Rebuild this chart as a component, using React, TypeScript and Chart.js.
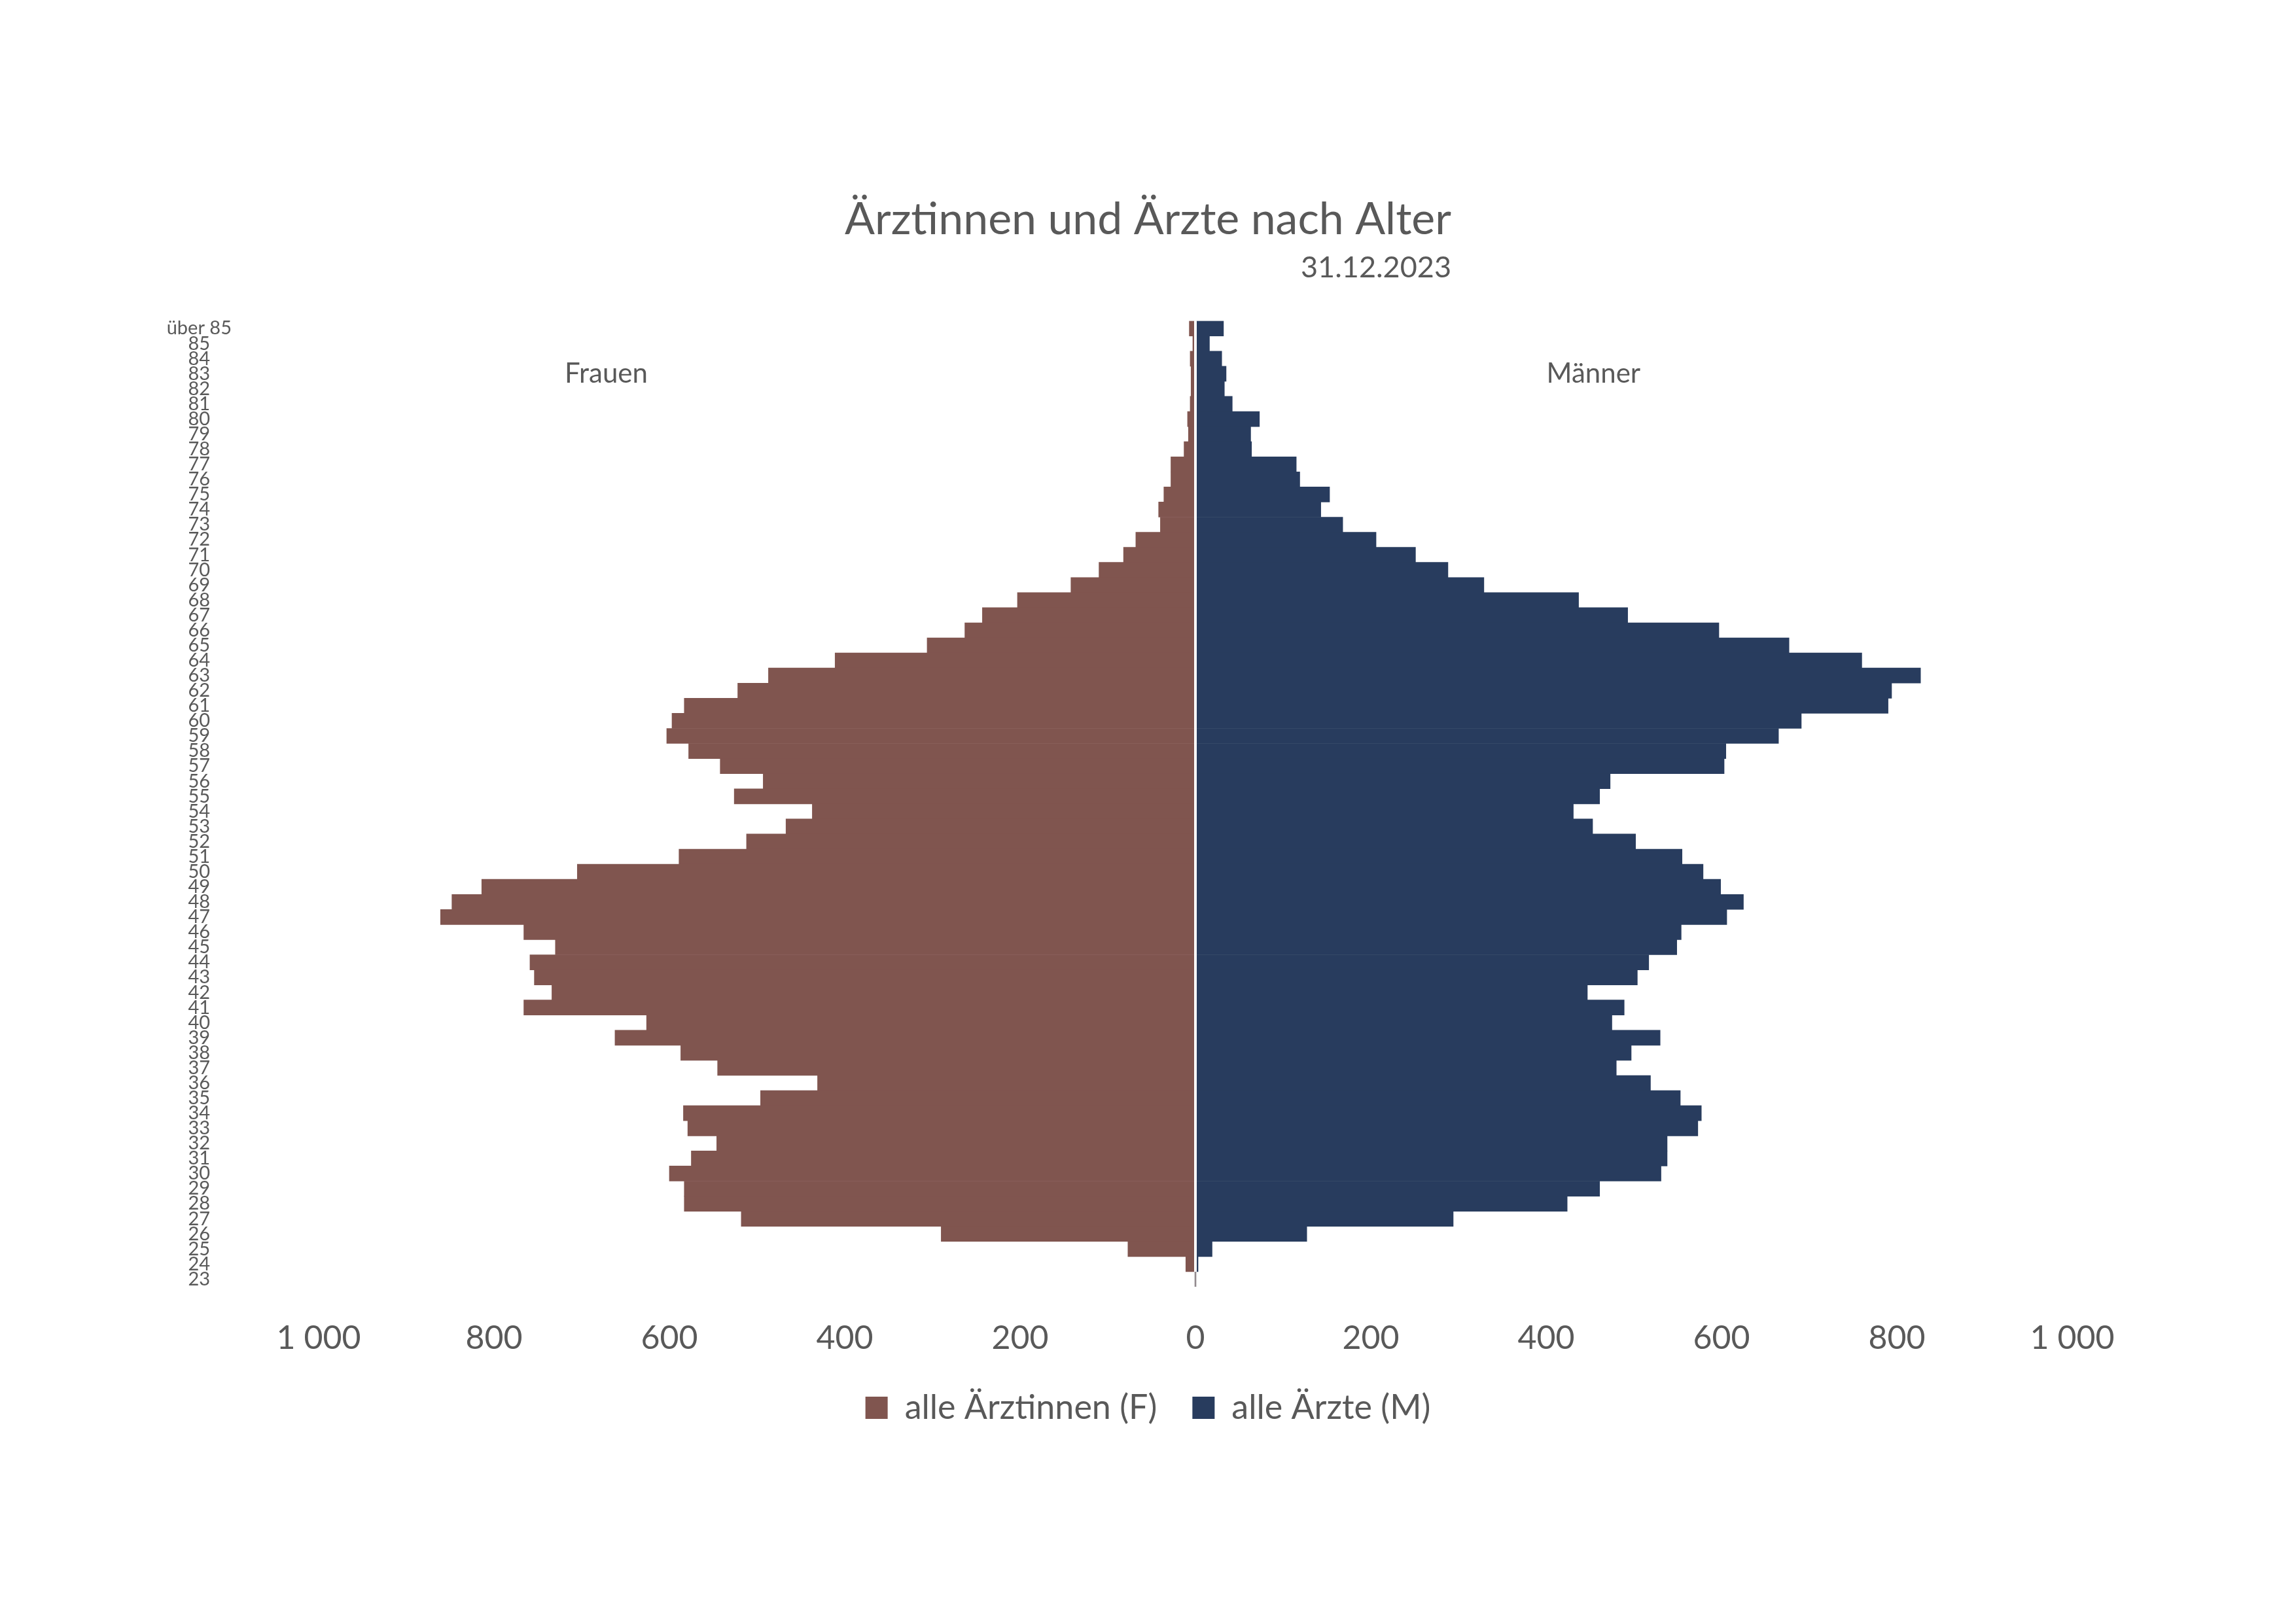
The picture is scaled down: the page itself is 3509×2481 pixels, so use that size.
import React, { useEffect, useRef } from "react";
import Chart from "chart.js/auto";

const FONT = "Lato";
const GREY = "#595959";
const WOMEN_COLOR = "#80554F";
const MEN_COLOR = "#283C5E";

const title = "Ärztinnen und Ärzte nach Alter";
const subtitle = "31.12.2023";
const sideLabels = ["Frauen", "Männer"];
const seriesNames = ["alle Ärztinnen (F)", "alle Ärzte (M)"];

// top row first, as in the picture
const ageLabels = [
    "über 85", "85", "84", "83", "82", "81", "80", "79", "78", "77", "76",
    "75", "74", "73", "72", "71", "70", "69", "68", "67", "66", "65", "64",
    "63", "62", "61", "60", "59", "58", "57", "56", "55", "54", "53", "52",
    "51", "50", "49", "48", "47", "46", "45", "44", "43", "42", "41", "40",
    "39", "38", "37", "36", "35", "34", "33", "32", "31", "30", "29", "28",
    "27", "26", "25", "24", "23",
];

const women = [
    7, 3, 6, 5, 5, 6, 9, 8, 13, 28, 28,
    36, 42, 40, 68, 82, 110, 142, 203, 243, 263, 306, 411,
    487, 522, 583, 597, 603, 578, 542, 493, 526, 437, 467, 512,
    589, 705, 814, 848, 861, 766, 730, 759, 754, 734, 766, 626,
    662, 587, 545, 431, 496, 584, 579, 546, 575, 600, 583, 583,
    518, 290, 77, 11, 0,
];

const men = [
    32, 16, 30, 35, 33, 42, 73, 63, 64, 115, 119,
    153, 143, 168, 206, 251, 288, 329, 437, 493, 597, 677, 760,
    827, 794, 790, 691, 665, 605, 603, 473, 461, 431, 453, 502,
    555, 579, 599, 625, 606, 554, 549, 517, 504, 447, 489, 475,
    530, 497, 480, 519, 553, 577, 573, 538, 538, 531, 461, 424,
    294, 127, 19, 3, 0,
];

const formatTick = (v: number) =>
    String(Math.abs(v)).replace(/\B(?=(\d{3})+(?!\d))/g, " ");

// white gap between the two halves, only where there are bars
const centerGap = {
    id: "centerGap",
    afterDatasetsDraw(chart: any) {
        const { ctx, chartArea, scales } = chart;
        const x = scales.x.getPixelForValue(0);
        const row = (chartArea.bottom - chartArea.top) / ageLabels.length;
        const bottom = scales.y.getPixelForValue(ageLabels.length - 2) + row / 2;
        ctx.save();
        ctx.strokeStyle = "#FFFFFF";
        ctx.lineWidth = 4;
        ctx.beginPath();
        ctx.moveTo(x, chartArea.top);
        ctx.lineTo(x, bottom);
        ctx.stroke();
        ctx.restore();
    },
};

// subtitle under the right end of the title, and the two side captions
const extraText = {
    id: "extraText",
    afterDraw(chart: any) {
        const { ctx, chartArea } = chart;
        ctx.save();
        ctx.fillStyle = GREY;
        ctx.font = `68px ${FONT}`;
        const titleRight = chart.width / 2 + ctx.measureText(title).width / 2;
        ctx.font = `45px ${FONT}`;
        ctx.textAlign = "right";
        ctx.textBaseline = "alphabetic";
        ctx.fillText(subtitle, titleRight, 424);

        const w = chartArea.right - chartArea.left;
        const y = chartArea.top + 94;
        ctx.font = `42px ${FONT}`;
        ctx.textAlign = "center";
        ctx.fillText(sideLabels[0], chartArea.left + w * 0.164, y);
        ctx.fillText(sideLabels[1], chartArea.left + w * 0.727, y);
        ctx.restore();
    },
};

const App = () => {
    const canvasRef = useRef(null);

    useEffect(() => {
        const chart = new Chart(canvasRef.current, {
            type: "bar",
            data: {
                labels: ageLabels,
                datasets: [
                    {
                        label: seriesNames[0],
                        data: women.map((v) => -v),
                        backgroundColor: WOMEN_COLOR,
                        barPercentage: 1,
                        categoryPercentage: 1,
                    },
                    {
                        label: seriesNames[1],
                        data: men,
                        backgroundColor: MEN_COLOR,
                        barPercentage: 1,
                        categoryPercentage: 1,
                    },
                ],
            },
            options: {
                indexAxis: "y",
                responsive: true,
                maintainAspectRatio: false,
                animation: false,
                layout: {
                    padding: { left: 123, right: 123, top: 295, bottom: 293 },
                },
                scales: {
                    x: {
                        stacked: true,
                        min: -1000,
                        max: 1000,
                        border: { display: false },
                        grid: {
                            drawTicks: false,
                            lineWidth: 4,
                            color: (ctx: any) =>
                                ctx.tick && ctx.tick.value === 0
                                    ? "#D9D9D9"
                                    : "rgba(0,0,0,0)",
                        },
                        ticks: {
                            stepSize: 200,
                            padding: 49,
                            maxRotation: 0,
                            color: GREY,
                            font: { family: FONT, size: 50 },
                            callback: (v: any) => formatTick(Number(v)),
                        },
                        afterFit: (scale: any) => {
                            scale.height = 105;
                        },
                    },
                    y: {
                        stacked: true,
                        border: { display: false },
                        grid: { display: false, drawTicks: false },
                        ticks: {
                            autoSkip: false,
                            crossAlign: "center",
                            padding: 133,
                            color: GREY,
                            font: { family: FONT, size: 29 },
                        },
                        afterFit: (scale: any) => {
                            scale.width = 364;
                        },
                    },
                    // empty spacer on the right so title and legend stay centred on the page
                    spacer: {
                        type: "linear",
                        position: "right",
                        border: { display: false },
                        grid: { display: false, drawTicks: false },
                        ticks: { display: false },
                        afterFit: (scale: any) => {
                            scale.width = 219;
                        },
                    },
                },
                plugins: {
                    title: {
                        display: true,
                        text: title,
                        color: GREY,
                        font: { family: FONT, size: 68, weight: "normal" },
                        padding: { top: 0, bottom: 114 },
                    },
                    legend: {
                        position: "bottom",
                        labels: {
                            boxWidth: 34,
                            boxHeight: 34,
                            padding: 54,
                            color: GREY,
                            font: { family: FONT, size: 52 },
                        },
                    },
                    tooltip: { enabled: false },
                },
            },
            plugins: [centerGap, extraText],
        });

        return () => {
            chart.destroy();
        };
    }, []);

    return (
        <div
            style={{
                position: "fixed",
                left: 0,
                top: 0,
                width: "100vw",
                height: "100vh",
                background: "#FFFFFF",
            }}
        >
            <canvas ref={canvasRef} />
        </div>
    );
};

export default App;
